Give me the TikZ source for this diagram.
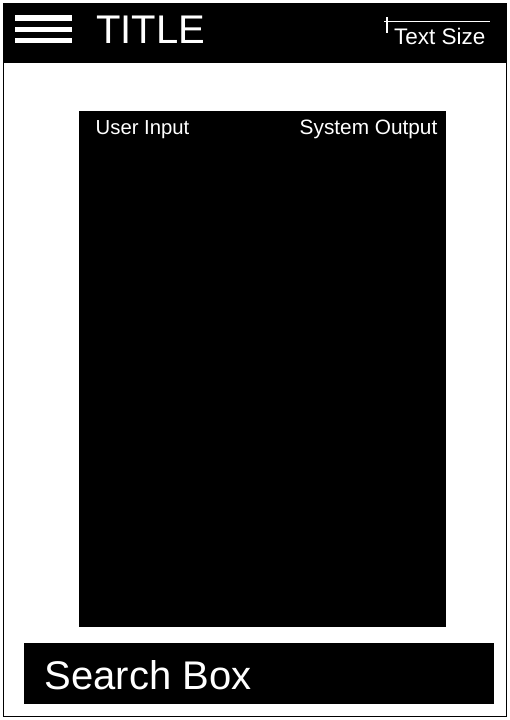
\documentclass[tikz,border=0pt]{standalone}
\usepackage{fontspec}
\setmainfont{Liberation Sans}

\begin{document}
\begin{tikzpicture}[%
      x=1pt, y=-1pt,
      label/.style={color=white, inner sep=0pt},
      ]
      \useasboundingbox (0,0) rectangle (510,720);
      % frame and header
      \draw [color=black, line width=1pt] (3.5,3.5) rectangle (506.5,716);
      \fill [color=black] (4,4) rectangle (506,63);
      \foreach \y in {15,26.5,37.5}
        \fill [color=white] (15,\y) rectangle (72,\y+5.5);
      \node [label, anchor=base west, font=\fontsize{40}{48}\selectfont] (title) at (96,43.3) {TITLE};

      % text size slider
      \draw [color=white, line width=1.2pt] (384,21.5) -- (490,21.5);
      \draw [color=white, line width=1.2pt] (387,17) -- (387,33);
      \node [label, anchor=base west, font=\fontsize{22.5}{27}\selectfont] (textsize) at (394,44.3) {Text Size};

      % conversation panel
      \fill [color=black] (79,111) rectangle (446,627);
      \node [label, anchor=base west, font=\fontsize{20.3}{24}\selectfont] (userin) at (95.5,134) {User Input};
      \node [label, anchor=base east, font=\fontsize{20.8}{25}\selectfont] (sysout) at (437.5,134) {System Output};

      % search box
      \fill [color=black] (24,643) rectangle (494,704);
      \node [label, anchor=base west, font=\fontsize{40}{48}\selectfont] (search) at (44.5,689.5) {Search Box};
      \end{tikzpicture}
\end{document}
